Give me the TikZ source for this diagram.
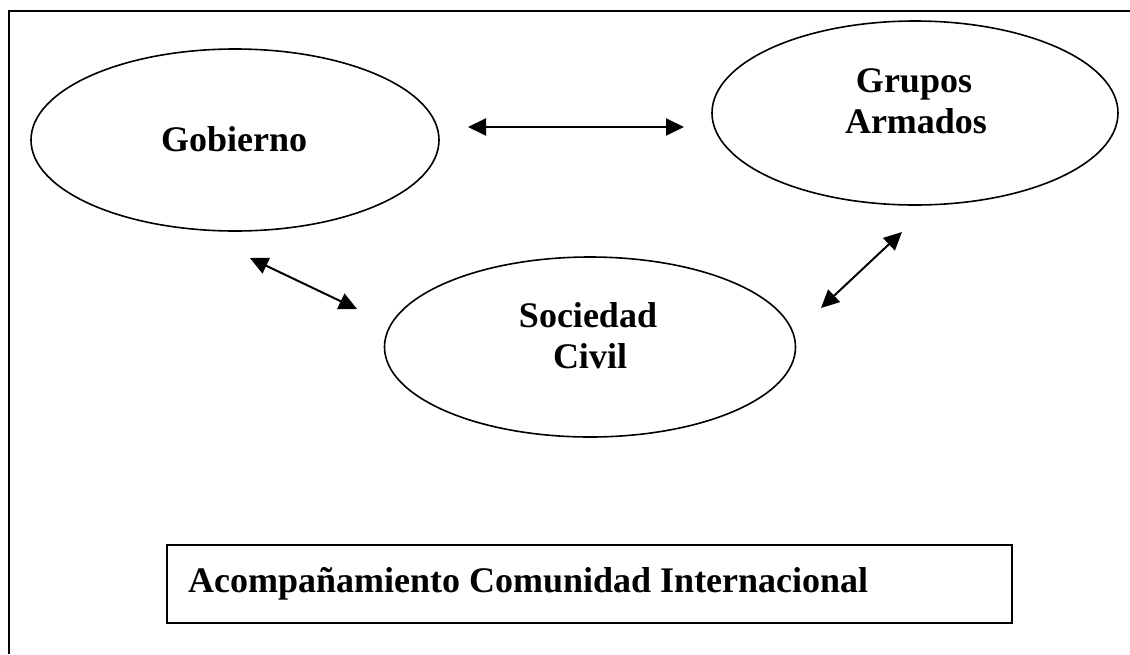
\documentclass[tikz,border=0pt]{standalone}
\usepackage{fontspec}
\setmainfont{Liberation Serif}
\usetikzlibrary{shapes.geometric,arrows.meta}
\begin{document}
\begin{tikzpicture}[x=1pt,y=-1pt,
  oval/.style={draw,ellipse,line width=1.6pt,inner sep=0pt},
  lbl/.style={font=\bfseries\fontsize{36}{41}\selectfont,align=center,inner sep=0pt,anchor=base},
  twoway/.style={line width=2pt,{Triangle[length=18pt,width=17pt]}-{Triangle[length=18pt,width=17pt]}},
  frameline/.style={line width=2pt}]
\useasboundingbox (0,0) rectangle (1130,654);
\fill[white] (0,0) rectangle (1130,654);
% outer frame (cropped on right and bottom)
\draw[frameline] (9,654) -- (9,11) -- (1130,11);
% ellipses
\node[oval,minimum width=408pt,minimum height=182pt] (gob) at (235,140) {};
\node[oval,minimum width=406pt,minimum height=184pt] (gra) at (915,113) {};
\node[oval,minimum width=411pt,minimum height=180pt] (soc) at (590,347) {};
% labels
\node[lbl] (tgob) at (234,151) {Gobierno};
\node[lbl] (tgra1) at (914,92) {Grupos};
\node[lbl] (tgra2) at (916,133) {Armados};
\node[lbl] (tsoc1) at (588,327) {Sociedad};
\node[lbl] (tsoc2) at (590,368) {Civil};
% box
\node[draw,line width=2pt,minimum width=845pt,minimum height=78pt,inner sep=0pt] (box) at (589.5,584) {};
\node[font=\bfseries\fontsize{36}{41}\selectfont,anchor=base west,inner sep=0pt] (tbox) at (188,592) {Acompañamiento Comunidad Internacional};
% arrow end points
\coordinate (h1) at (468,127);
\coordinate (h2) at (684,127);
\coordinate (gs1) at (250,258);
\coordinate (gs2) at (357,309);
\coordinate (sg1) at (821,308);
\coordinate (sg2) at (902,232);
\draw[twoway] (h1) -- (h2);
\draw[twoway] (gs1) -- (gs2);
\draw[twoway] (sg1) -- (sg2);
\end{tikzpicture}
\end{document}
